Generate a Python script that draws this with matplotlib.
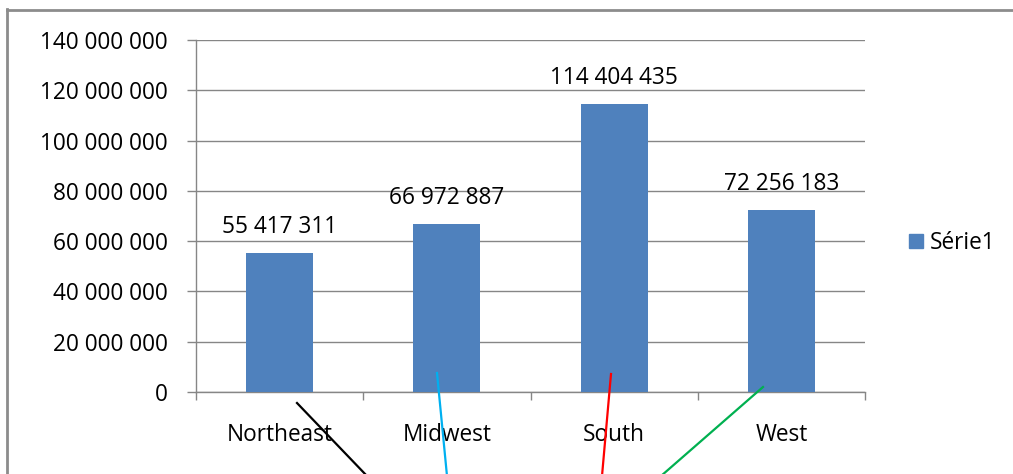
import matplotlib
matplotlib.use("Agg")
import matplotlib.pyplot as plt
from matplotlib.lines import Line2D
from matplotlib.patches import Rectangle
from matplotlib.ticker import FuncFormatter, FixedLocator

categories = ["Northeast", "Midwest", "South", "West"]
values = [55417311, 66972887, 114404435, 72256183]
series_name = "Série1"
yticks = [0, 20000000, 40000000, 60000000, 80000000, 100000000, 120000000, 140000000]

BAR = "#4F81BD"
GRID = "#868686"
FONT = "Open Sans"
FS = 16.3

W, H = 1013, 474
fig = plt.figure(figsize=(W / 100, H / 100), dpi=100)
plt.rcParams['font.family'] = [FONT, 'DejaVu Sans']

def fx(px):
    return px / W

def fy(py):
    return 1 - py / H

ax = fig.add_axes([fx(196), fy(392), fx(865) - fx(196), fy(40) - fy(392)])
x = list(range(len(categories)))
bars = ax.bar(x, values, width=0.4, color=BAR, zorder=3, label=series_name)
ax.set_xlim(-0.5, len(categories) - 0.5)
ax.set_ylim(0, 140000000)

def fmt(v):
    return f"{int(round(v)):,}".replace(",", " ")

ax.yaxis.set_major_locator(FixedLocator(yticks))
ax.yaxis.set_major_formatter(FuncFormatter(lambda v, p: fmt(v)))
ax.grid(axis='y', color=GRID, linewidth=1.0, zorder=0)
ax.set_axisbelow(True)
for s in ['top', 'right']:
    ax.spines[s].set_visible(False)
for s in ['left', 'bottom']:
    ax.spines[s].set_color(GRID)
    ax.spines[s].set_linewidth(1.0)

ax.set_xticks(x)
ax.set_xticklabels(categories)
ax.set_xticks([i - 0.5 for i in range(len(categories) + 1)], minor=True)
ax.tick_params(axis='x', which='major', length=0, pad=22.5, labelsize=FS, labelcolor='black')
ax.tick_params(axis='x', which='minor', length=5.5, color=GRID, width=1.0, direction='out')
ax.tick_params(axis='y', which='major', length=6.5, color=GRID, width=1.0, pad=14, labelsize=FS, labelcolor='black')

for xi, v in zip(x, values):
    ax.annotate(fmt(v), (xi, v), xytext=(0, 10), textcoords='offset points',
                ha='center', va='bottom', fontsize=FS, color='black')

leg = fig.legend(handles=[Rectangle((0, 0), 1, 1, color=BAR)], labels=[series_name],
                 loc='center left', bbox_to_anchor=(fx(889), fy(243)), frameon=False,
                 fontsize=FS, handlelength=0.6, handleheight=0.6, handletextpad=0.3)

# chart frame
fig.add_artist(Line2D([fx(7), fx(7)], [fy(9), 0], color="#8C8C8C", linewidth=2.0))
fig.add_artist(Line2D([fx(7), 1], [fy(9.5), fy(9.5)], color="#8C8C8C", linewidth=2.0))

# hand-drawn connector lines
connectors = [
    ("black", (297, 403), (367, 476)),
    ("#00B0F0", (437, 373), (447, 476)),
    ("#FF0000", (611, 374), (602, 476)),
    ("#00B050", (763, 387), (661, 476)),
]
for c, (x0, y0), (x1, y1) in connectors:
    fig.add_artist(Line2D([fx(x0), fx(x1)], [fy(y0), fy(y1)], color=c, linewidth=1.6, zorder=10))

fig.savefig("out.png", dpi=100)
